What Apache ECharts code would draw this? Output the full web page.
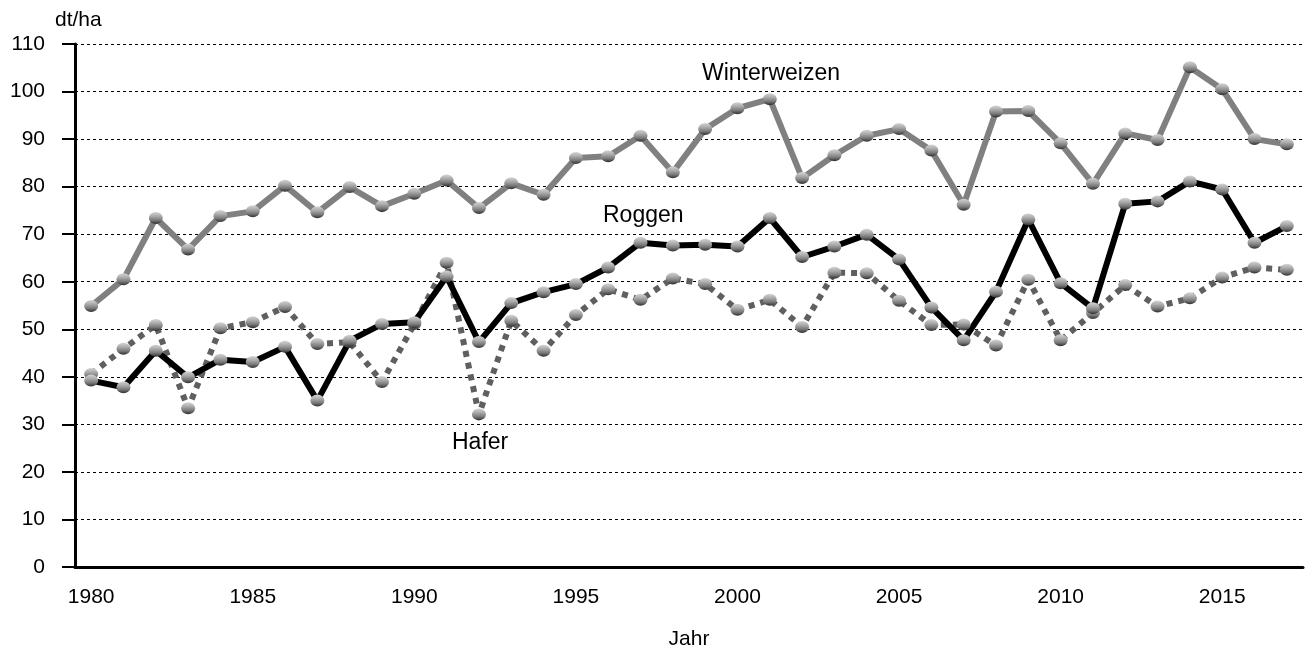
<!DOCTYPE html>
<html>
<head>
<meta charset="utf-8">
<script src="https://cdn.jsdelivr.net/npm/echarts@6/dist/echarts.min.js"></script>
<style>
  html, body { margin: 0; padding: 0; background: #fff; }
  #chart { width: 1305px; height: 655px; }
</style>
</head>
<body>
<div id="chart"></div>
<script>
// Jahre 1980..2017
var years = [];
for (var y = 1980; y <= 2017; y++) years.push(String(y));

// Ertraege in dt/ha
var winterweizen = [54.9, 60.5, 73.4, 66.8, 73.8, 74.8, 80.2, 74.6, 79.9, 75.9,
  78.5, 81.3, 75.5, 80.7, 78.3, 86.0, 86.4, 90.7, 83.0, 92.1,
  96.5, 98.4, 81.8, 86.6, 90.7, 92.1, 87.6, 76.2, 95.8, 95.9,
  89.1, 80.6, 91.2, 89.8, 105.1, 100.5, 90.0, 88.9];
var roggen = [39.2, 37.8, 45.5, 39.9, 43.6, 43.1, 46.3, 35.0, 47.6, 51.1,
  51.5, 61.1, 47.3, 55.5, 57.8, 59.5, 63.0, 68.2, 67.6, 67.8,
  67.4, 73.4, 65.2, 67.4, 69.9, 64.7, 54.6, 47.7, 57.9, 73.1,
  59.7, 54.4, 76.4, 76.9, 81.1, 79.4, 68.2, 71.7];
var hafer = [40.6, 45.9, 50.9, 33.4, 50.2, 51.5, 54.7, 46.9, 47.3, 38.9,
  51.1, 64.0, 32.1, 51.8, 45.5, 53.0, 58.4, 56.2, 60.7, 59.5,
  54.1, 56.2, 50.5, 61.9, 61.8, 56.0, 50.9, 51.0, 46.6, 60.4,
  47.7, 53.4, 59.3, 54.8, 56.5, 60.9, 63.0, 62.5];

var FONT = 'Liberation Sans, Arial, sans-serif';

// kugelfoermige Marker, oben hell, unten dunkel
function ball() {
  return new echarts.graphic.LinearGradient(0, 0, 0, 1, [
    { offset: 0, color: '#d4d4d4' },
    { offset: 0.35, color: '#ababab' },
    { offset: 0.7, color: '#777777' },
    { offset: 1, color: '#2e2e2e' }
  ]);
}

function lineSeries(name, data, color, width, type) {
  return {
    name: name,
    type: 'line',
    data: data,
    symbol: 'circle',
    symbolSize: [14, 12],
    showAllSymbol: true,
    lineStyle: { color: color, width: width, type: type, cap: 'butt', join: 'bevel' },
    itemStyle: { color: ball(), borderWidth: 0 },
    emphasis: { disabled: true }
  };
}

var chart = echarts.init(document.getElementById('chart'));
chart.setOption({
  animation: false,
  grid: { left: 75, right: 2, top: 44, bottom: 86, containLabel: false },
  xAxis: {
    type: 'category',
    data: years,
    boundaryGap: true,
    name: 'Jahr',
    nameLocation: 'middle',
    nameGap: 62,
    nameTextStyle: { fontFamily: FONT, fontSize: 21, color: '#000' },
    axisLine: { lineStyle: { color: '#000', width: 3 } },
    axisTick: { alignWithLabel: true, interval: 0, length: 13, lineStyle: { color: '#000', width: 2 } },
    axisLabel: { interval: 4, margin: 20, fontFamily: FONT, fontSize: 21, color: '#000' },
    splitLine: { show: false }
  },
  yAxis: {
    type: 'value',
    min: 0,
    max: 110,
    interval: 10,
    axisLine: { show: true, lineStyle: { color: '#000', width: 3 } },
    axisTick: { show: true, length: 13, lineStyle: { color: '#000', width: 2 } },
    axisLabel: { margin: 30, fontFamily: FONT, fontSize: 21, color: '#000' },
    splitLine: { show: true, lineStyle: { color: '#000', width: 1, type: [3, 3] } }
  },
  series: [
    lineSeries('Hafer', hafer, '#5f5f5f', 6, [6, 6]),
    lineSeries('Roggen', roggen, '#000000', 6, 'solid'),
    lineSeries('Winterweizen', winterweizen, '#808080', 6, 'solid')
  ],
  graphic: [
    { type: 'text', left: 55, top: 10, style: { text: 'dt/ha', font: '21px ' + FONT, fill: '#000' } },
    { type: 'text', left: 702, top: 62, style: { text: 'Winterweizen', font: '23px ' + FONT, fill: '#000' } },
    { type: 'text', left: 603, top: 204, style: { text: 'Roggen', font: '23px ' + FONT, fill: '#000' } },
    { type: 'text', left: 452, top: 431, style: { text: 'Hafer', font: '23px ' + FONT, fill: '#000' } }
  ]
});
</script>
</body>
</html>
